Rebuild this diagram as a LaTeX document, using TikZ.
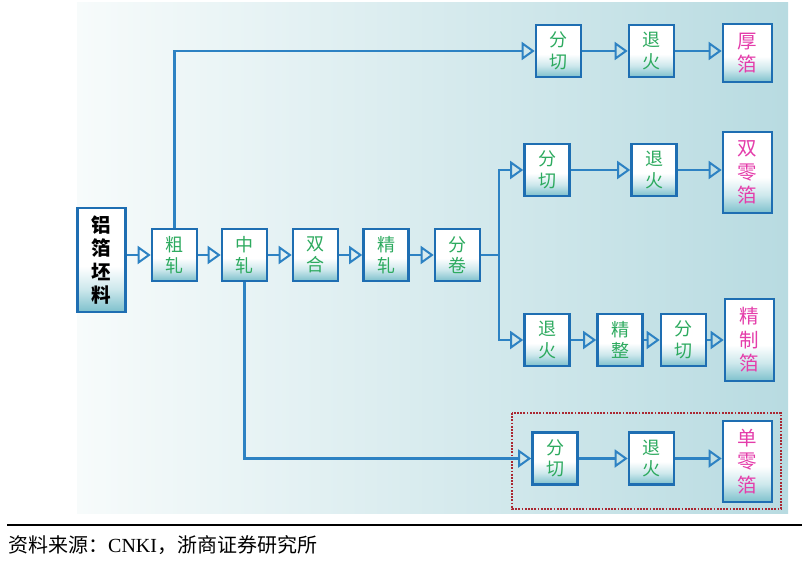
\documentclass[tikz,border=0pt]{standalone}
\usepackage{fontspec}
\setmainfont{Liberation Serif}
\newfontfamily\cjk{Noto Sans CJK SC}
\usetikzlibrary{arrows.meta}
\definecolor{boxblue}{RGB}{30,110,178}
\definecolor{lineblue}{RGB}{45,130,195}
\definecolor{txtgreen}{RGB}{45,170,95}
\definecolor{txtpink}{RGB}{228,60,170}
\definecolor{bgL}{RGB}{247,251,251}
\definecolor{bgR}{RGB}{184,219,225}
\definecolor{shA}{RGB}{125,192,204}
\definecolor{shB}{RGB}{205,232,236}
\definecolor{dotred}{RGB}{170,40,50}
\pgfdeclareverticalshading{boxshade}{100bp}{color(0bp)=(shA); color(25bp)=(shA); color(36bp)=(shB); color(47bp)=(white); color(100bp)=(white)}
\tikzset{
  proc/.style={draw=boxblue, line width=2.6pt, shade, shading=boxshade, minimum width=45pt, minimum height=52pt, inner sep=0pt, align=center, text=txtgreen, font=\cjk\fontsize{18}{21.5}\selectfont},
  prod/.style={proc, minimum width=49pt, text=txtpink, font=\cjk\fontsize{19.5}{23.5}\selectfont},
  rawbox/.style={proc, minimum width=48pt, minimum height=104pt, text=black, font=\cjk\bfseries\fontsize{19.5}{23.5}\selectfont},
  conn/.style={draw=lineblue, line width=2.4pt},
  arr/.style={conn, -{Triangle[open, length=13pt, width=18pt, line width=2pt]}},
}
\begin{document}
\begin{tikzpicture}[x=1pt, y=-1pt]
\useasboundingbox (0,0) rectangle (802,561);
\shade[left color=bgL, right color=bgR] (77,3) rectangle (788,513);
% main row
\node[rawbox] (raw) at (101.5,260) {铝\\箔\\坯\\料};
\node[proc] (cu) at (174.5,255) {粗\\轧};
\node[proc] (zz) at (244.5,255) {中\\轧};
\node[proc] (sh) at (315.5,255) {双\\合};
\node[proc] (jz) at (386,255) {精\\轧};
\node[proc] (fj) at (457.5,255) {分\\卷};
\coordinate (sp) at (499,255);
% row 1
\node[proc] (fq1) at (558.5,51) {分\\切};
\node[proc] (th1) at (651.5,51) {退\\火};
\node[prod, minimum height=58pt] (hb) at (747.5,53) {厚\\箔};
% row 2
\node[proc] (fq2) at (547,170) {分\\切};
\node[proc] (th2) at (654,170) {退\\火};
\node[prod, minimum height=81pt] (slb) at (747.5,172.5) {双\\零\\箔};
% row 3
\node[proc] (th3) at (547,340) {退\\火};
\node[proc] (jzh) at (620,340) {精\\整};
\node[proc] (fq3) at (683.5,340) {分\\切};
\node[prod, minimum height=82pt] (jzb) at (749.5,340) {精\\制\\箔};
% row 4
\node[proc] (fq4) at (555,458.5) {分\\切};
\node[proc] (th4) at (651.5,458.5) {退\\火};
\node[prod, minimum height=81pt] (dlb) at (747.5,461.5) {单\\零\\箔};
\draw[dotred, line width=1.8pt, dash pattern=on 1.8pt off 1.4pt] (512,413) rectangle (781,509);
% connectors
\draw[arr] (raw.east |- cu) -- (cu.west);
\draw[arr] (cu.east) -- (zz.west);
\draw[arr] (zz.east) -- (sh.west);
\draw[arr] (sh.east) -- (jz.west);
\draw[arr] (jz.east) -- (fj.west);
\draw[arr] (cu.north) |- (fq1.west);
\draw[arr] (fq1.east) -- (th1.west);
\draw[arr] (th1.east) -- (th1 -| hb.west);
\draw[conn] (fj.east) -- (sp);
\draw[arr] (sp) |- (fq2.west);
\draw[arr] (fq2.east) -- (th2.west);
\draw[arr] (th2.east) -- (th2 -| slb.west);
\draw[arr] (sp) |- (th3.west);
\draw[arr] (th3.east) -- (jzh.west);
\draw[arr] (jzh.east) -- (fq3.west);
\draw[arr] (fq3.east) -- (jzb.west);
\draw[arr] (zz.south) |- (fq4.west);
\draw[arr] (fq4.east) -- (th4.west);
\draw[arr] (th4.east) -- (th4 -| dlb.west);
% footer
\draw[line width=1.4pt] (7,525) -- (802,525);
\node[anchor=west, inner sep=0pt, font=\fontsize{20}{22}\selectfont] (src) at (8,545) {{\cjk 资料来源：}CNKI{\cjk ，浙商证券研究所}};
\end{tikzpicture}
\end{document}
